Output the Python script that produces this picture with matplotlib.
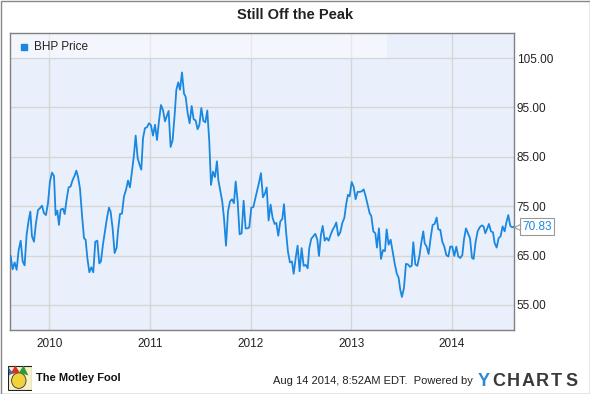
import matplotlib
matplotlib.use('Agg')
import matplotlib.pyplot as plt
import matplotlib.transforms as mtransforms
from matplotlib.patches import Rectangle, Ellipse, Polygon

plt.rcParams['font.family'] = ['Liberation Sans', 'DejaVu Sans']

# BHP weekly price, dates as decimal years
years = [
    2009.616, 2009.636, 2009.656, 2009.676, 2009.696, 2009.716, 2009.736, 2009.755, 2009.775, 2009.795,
    2009.812, 2009.828, 2009.848, 2009.868, 2009.888, 2009.908, 2009.928, 2009.947, 2009.967, 2009.987,
    2010.007, 2010.027, 2010.047, 2010.063, 2010.080, 2010.096, 2010.113, 2010.136, 2010.153, 2010.172,
    2010.192, 2010.212, 2010.232, 2010.252, 2010.269, 2010.285, 2010.305, 2010.325, 2010.345, 2010.361,
    2010.378, 2010.398, 2010.418, 2010.437, 2010.457, 2010.477, 2010.497, 2010.513, 2010.533, 2010.553,
    2010.573, 2010.593, 2010.609, 2010.629, 2010.649, 2010.669,
    2010.682, 2010.702, 2010.722, 2010.742, 2010.762, 2010.782, 2010.801, 2010.821, 2010.841, 2010.858,
    2010.878, 2010.897, 2010.914, 2010.931, 2010.950, 2010.970, 2010.990, 2011.010, 2011.030, 2011.050,
    2011.070, 2011.089, 2011.109, 2011.129, 2011.149, 2011.166, 2011.185, 2011.205, 2011.225, 2011.245,
    2011.262, 2011.281, 2011.298, 2011.318, 2011.338, 2011.354, 2011.374, 2011.394, 2011.414, 2011.434,
    2011.453, 2011.473, 2011.490, 2011.510, 2011.530, 2011.550, 2011.569, 2011.589, 2011.606, 2011.626,
    2011.646, 2011.665,
    2011.679, 2011.699, 2011.718, 2011.735, 2011.755, 2011.775, 2011.794, 2011.814, 2011.834, 2011.851,
    2011.871, 2011.890, 2011.910, 2011.930, 2011.950, 2011.970, 2011.986, 2012.006, 2012.026, 2012.046,
    2012.066, 2012.082, 2012.102, 2012.122, 2012.142, 2012.159, 2012.178, 2012.198, 2012.218, 2012.238,
    2012.255, 2012.274, 2012.294, 2012.314, 2012.331, 2012.351, 2012.370, 2012.390, 2012.410, 2012.427,
    2012.447, 2012.466, 2012.486, 2012.506, 2012.526, 2012.546, 2012.566, 2012.582, 2012.602, 2012.622,
    2012.642, 2012.662, 2012.678, 2012.698,
    2012.715, 2012.735, 2012.754, 2012.774, 2012.794, 2012.814, 2012.834, 2012.850, 2012.870, 2012.890,
    2012.910, 2012.930, 2012.950, 2012.966, 2012.983, 2013.003, 2013.023, 2013.042, 2013.062, 2013.082,
    2013.102, 2013.122, 2013.142, 2013.162, 2013.181, 2013.198, 2013.218, 2013.238, 2013.254, 2013.274,
    2013.294, 2013.314, 2013.334, 2013.350, 2013.370, 2013.390, 2013.410, 2013.430, 2013.450, 2013.469,
    2013.486, 2013.502, 2013.522, 2013.542, 2013.562, 2013.582, 2013.599, 2013.615, 2013.635, 2013.655,
    2013.675, 2013.694, 2013.714,
    2013.728, 2013.747, 2013.767, 2013.787, 2013.807, 2013.827, 2013.847, 2013.863, 2013.883, 2013.903,
    2013.923, 2013.943, 2013.963, 2013.982, 2014.002, 2014.022, 2014.042, 2014.062, 2014.082, 2014.102,
    2014.118, 2014.138, 2014.158, 2014.178, 2014.198, 2014.214, 2014.234, 2014.254, 2014.274, 2014.294,
    2014.313, 2014.330, 2014.350, 2014.366, 2014.386, 2014.406, 2014.423, 2014.443, 2014.462, 2014.482,
    2014.502, 2014.522, 2014.538, 2014.558, 2014.578, 2014.598, 2014.615,
]
prices = [
    64.9, 62.2, 63.6, 62.1, 66.1, 68.0, 63.8, 63.0, 69.2, 72.1,
    73.9, 68.9, 67.8, 71.6, 74.2, 74.6, 75.1, 73.6, 73.2, 75.6,
    80.0, 81.8, 81.1, 73.2, 74.1, 71.2, 74.3, 74.5, 73.4, 76.3,
    78.8, 79.0, 80.3, 81.2, 82.2, 81.0, 78.6, 73.2, 68.5, 68.2,
    64.5, 61.6, 62.6, 61.6, 67.8, 68.0, 63.4, 63.8, 67.2, 69.9,
    72.6, 74.7, 73.9, 70.5, 65.5, 66.6,
    69.9, 73.4, 73.5, 77.0, 78.3, 80.2, 78.8, 82.0, 85.4, 89.3,
    84.7, 83.4, 82.4, 88.8, 90.8, 91.0, 91.8, 91.4, 89.3, 91.5,
    88.4, 92.2, 95.5, 94.5, 92.2, 93.2, 94.3, 87.0, 88.4, 93.5,
    98.6, 100.1, 98.6, 102.1, 97.8, 97.2, 93.9, 91.8, 95.3, 92.6,
    92.4, 90.6, 91.4, 94.9, 92.3, 92.0, 94.4, 88.1, 79.3, 82.0,
    80.9, 84.1,
    80.3, 78.0, 75.9, 72.6, 67.0, 73.9, 75.9, 76.4, 75.6, 80.0,
    75.9, 69.3, 69.5, 76.1, 70.5, 70.5, 70.7, 74.7, 74.8, 76.6,
    78.3, 79.7, 81.7, 76.8, 77.6, 78.8, 72.1, 75.3, 72.6, 71.4,
    71.6, 69.0, 71.9, 72.4, 75.4, 69.9, 65.8, 63.6, 63.8, 61.3,
    64.5, 67.0, 61.8, 66.5, 62.9, 63.1, 62.4, 66.5, 68.4, 68.9,
    69.4, 68.2, 64.9, 69.2,
    71.0, 68.0, 68.6, 68.0, 69.2, 70.2, 70.9, 71.7, 69.0, 69.7,
    71.6, 72.6, 75.6, 77.3, 77.0, 79.9, 78.9, 76.4, 77.9, 77.9,
    78.0, 78.4, 77.0, 75.3, 73.6, 73.0, 69.9, 69.5, 66.6, 70.5,
    64.3, 66.1, 65.9, 70.3, 67.2, 68.2, 65.8, 63.4, 61.4, 60.5,
    58.0, 56.6, 58.4, 63.3, 63.2, 62.7, 62.9, 67.7, 63.2, 62.9,
    64.8, 67.5, 69.9,
    67.5, 66.8, 65.3, 68.5, 71.2, 71.4, 72.7, 70.3, 70.2, 67.8,
    66.8, 65.1, 64.8, 66.8, 66.8, 64.9, 66.8, 64.8, 64.5, 65.1,
    68.2, 70.5, 69.5, 68.5, 64.5, 64.3, 67.8, 69.9, 70.7, 71.1,
    70.9, 69.5, 70.5, 71.4, 69.9, 69.7, 67.5, 66.6, 68.5, 68.9,
    70.9, 69.9, 71.6, 73.2, 71.0, 70.7, 70.83,
]
year_ticks = [2010, 2011, 2012, 2013, 2014]
price_ticks = [55, 65, 75, 85, 95, 105]
last_price = 70.83

line_blue = '#1a87e0'
W, H = 590, 394

fig = plt.figure(figsize=(5.9, 3.94), dpi=100)
ax = fig.add_axes([10 / W, 64 / H, 504 / W, 297 / H])
ax.set_facecolor('#eaf0fb')
ax.plot(years, prices, color=line_blue, lw=1.3, zorder=3)

ax.set_xlim(2009.61, 2014.615)
ax.set_ylim(49.9, 110.1)
ax.set_xticks(year_ticks)
ax.set_xticklabels([str(y) for y in year_ticks])
ax.set_yticks(price_ticks)
ax.set_yticklabels([f'{p:.2f}' for p in price_ticks])
ax.yaxis.tick_right()
ax.tick_params(length=0, labelsize=8.5, colors='#222222')
ax.tick_params(axis='x', pad=5.5)
ax.tick_params(axis='y', pad=2)
ax.grid(color='#d6d6d6', lw=1)
ax.set_axisbelow(True)
for s in ax.spines.values():
    s.set_color('#808080')
    s.set_linewidth(1)

# legend band across the top
ax.add_patch(Rectangle((0, 0.9148), 0.748, 0.0852, transform=ax.transAxes,
                       fc='white', alpha=0.45, ec='none', zorder=1.5))
ax.plot([0.0268], [0.953], marker='s', ms=5, color=line_blue, ls='none',
        transform=ax.transAxes, zorder=4)
ax.text(0.0476, 0.953, 'BHP Price', transform=ax.transAxes, ha='left', va='center',
        fontsize=8.5, color='#222222')

# last value callout
trans = mtransforms.blended_transform_factory(ax.transAxes, ax.transData)
ax.annotate(f'{last_price:.2f}', xy=(1, last_price), xycoords=trans, xytext=(8, 0),
            textcoords='offset pixels', ha='left', va='center', fontsize=8.5,
            color=line_blue, annotation_clip=False, zorder=5,
            bbox=dict(boxstyle='square,pad=0.2', fc='white', ec='#999999', lw=0.8))
tri = mtransforms.offset_copy(trans, fig=fig, x=3, y=0, units='dots')
ax.plot([1], [last_price], marker='<', ms=5, mfc='white', mec='#999999', mew=0.8,
        transform=tri, clip_on=False, zorder=6)

fig.text(0.5, 1 - 15 / H, 'Still Off the Peak', ha='center', va='center',
         fontsize=10.5, fontweight='bold', color='#222222')

# outer frame
fig.add_artist(Rectangle((0.5 / W, 0.5 / H), 589 / W, 393 / H, transform=fig.transFigure,
                         fill=False, ec='#888888', lw=1))

# footer
fig.text(473 / W, 1 - 381 / H, 'Aug 14 2014, 8:52AM EDT.  Powered by', ha='right',
         va='center', fontsize=8, color='#222222')
for i, ch in enumerate('YCHARTS'):
    fig.text((478 + i * 14.5) / W, 1 - 381 / H, ch, ha='left', va='center', fontsize=13,
             fontweight='bold', color='#2a8ad8' if ch == 'Y' and i == 0 else '#3a3a3a')
fig.text(36 / W, 1 - 378 / H, 'The Motley Fool', ha='left', va='center', fontsize=8,
         fontweight='bold', color='#111111')

# little jester logo
lax = fig.add_axes([8 / W, 3 / H, 24 / W, 26 / H])
lax.set_xlim(0, 1)
lax.set_ylim(0, 1)
lax.axis('off')
lax.add_patch(Rectangle((0.02, 0.02), 0.96, 0.96, fc='#f6f1c8', ec='#222222', lw=0.8))
lax.add_patch(Ellipse((0.45, 0.4), 0.6, 0.6, fc='#f2d23a', ec='#333333', lw=0.6))
lax.add_patch(Polygon([[0.1, 0.65], [0.3, 0.98], [0.5, 0.7]], fc='#d8312a', ec='none'))
lax.add_patch(Polygon([[0.45, 0.7], [0.65, 0.98], [0.85, 0.6]], fc='#2e9a3c', ec='none'))
lax.add_patch(Polygon([[0.05, 0.6], [0.02, 0.9], [0.2, 0.7]], fc='#2b6cc4', ec='none'))

fig.savefig('out.png', dpi=100)
